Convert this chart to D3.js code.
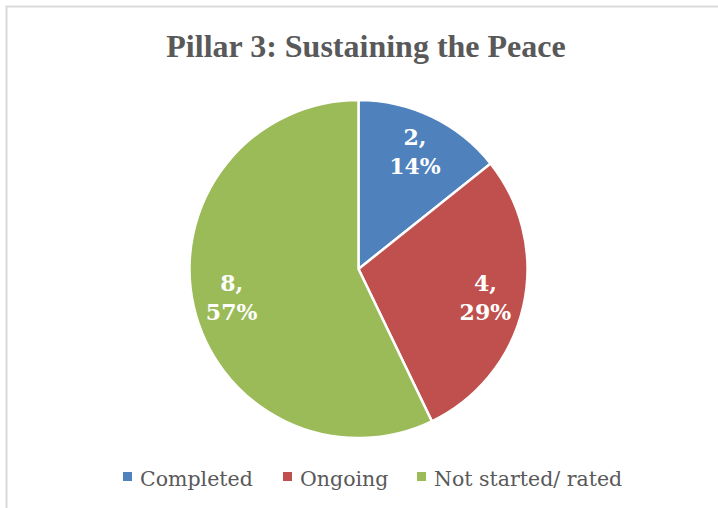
<!DOCTYPE html>
<html><head><meta charset="utf-8">
<script src="https://cdn.jsdelivr.net/npm/d3@7"></script>
<style>body{margin:0;background:#fff;} svg{display:block;}</style>
</head><body>
<svg id="c" width="718" height="508"></svg>
<script>
const categories = ["Completed", "Ongoing", "Not started/ rated"];
const values = [2, 4, 8];
const colors = ["#4f81bd", "#c0504d", "#9bbb59"];
const title = "Pillar 3: Sustaining the Peace";

const svg = d3.select("#c");
svg.append("rect").attr("x", 6.5).attr("y", 6.5).attr("width", 730).attr("height", 520)
  .attr("fill", "#fff").attr("stroke", "#d9d9d9").attr("stroke-width", 2);

svg.append("text").attr("x", 366).attr("y", 57).attr("text-anchor", "middle")
  .attr("font-family", "Liberation Serif, Times New Roman, serif").attr("font-weight", "bold")
  .attr("font-size", 32).attr("fill", "#595959").text(title);

const cx = 358.5, cy = 269, R = 169;
const data = categories.map((c, i) => ({cat: c, v: values[i], col: colors[i]}));
const total = d3.sum(values);
const pie = d3.pie().value(d => d.v).sort(null);
const arc = d3.arc().innerRadius(0).outerRadius(R);
const labelArc = d3.arc().innerRadius(R * 0.77).outerRadius(R * 0.77);
const g = svg.append("g").attr("transform", `translate(${cx},${cy})`);
const arcs = pie(data);
g.selectAll("path").data(arcs).join("path").attr("d", arc)
  .attr("fill", d => d.data.col).attr("stroke", "#fff").attr("stroke-width", 2.5);

const lab = g.selectAll("text.l").data(arcs).join("text").attr("class", "l")
  .attr("transform", d => `translate(${labelArc.centroid(d)})`)
  .attr("text-anchor", "middle").attr("fill", "#fff")
  .attr("font-family", "DejaVu Serif, serif").attr("font-weight", "bold").attr("font-size", 22);
lab.append("tspan").attr("x", 0).attr("y", -6.5).text(d => d.data.v + ",");
lab.append("tspan").attr("x", 0).attr("y", 22.5).text(d => Math.round(d.data.v / total * 100) + "%");

// legend
const legend = svg.append("g").attr("transform", "translate(0,486)");
const lx = [123, 283, 417];
const items = legend.selectAll("g").data(data).join("g").attr("transform", (d, i) => `translate(${lx[i]},0)`);
items.append("rect").attr("x", 0).attr("y", -14).attr("width", 9).attr("height", 9).attr("fill", d => d.col);
items.append("text").attr("x", 17).attr("y", 0).attr("font-family", "DejaVu Serif, serif")
  .attr("font-size", 20.5).attr("fill", "#595959").text(d => d.cat);
</script>
</body></html>
